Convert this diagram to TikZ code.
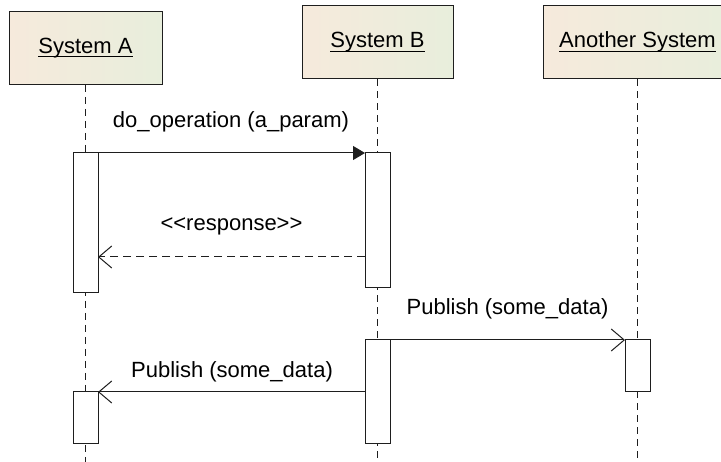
\documentclass[tikz,border=0pt]{standalone}
\usepackage{fontspec}
\setmainfont{Liberation Sans}
\usepackage{xcolor}
\definecolor{headLeft}{HTML}{F6EADC}
\definecolor{headRight}{HTML}{E8EEDC}
\definecolor{lineDark}{HTML}{1E1E1E}
\usepackage{tikz}
\usetikzlibrary{arrows.meta, positioning, calc}

% underlined participant name, rule crossing the descenders
\newcommand{\lifeName}[1]{\setbox0=\hbox{#1}\rlap{\rule[-4pt]{\wd0}{1pt}}\box0}

\begin{document}
\begin{tikzpicture}[
        x=1pt, y=-1pt,
        headNode/.style={
            draw=lineDark,
            line width=1pt,
            left color=headLeft,
            right color=headRight,
            minimum height=73pt,
            inner sep=0pt,
            text height=16pt,
            text depth=5pt,
            font=\fontsize{22}{26}\selectfont
        },
        actBar/.style={
            draw=lineDark,
            fill=white,
            line width=1pt,
            minimum width=25pt,
            inner sep=0pt,
            outer sep=0pt
        },
        lifeLine/.style={
            draw=lineDark,
            line width=1pt,
            dash pattern=on 7pt off 5pt
        },
        msgLabel/.style={
            anchor=base,
            inner sep=0pt,
            font=\fontsize{22}{26}\selectfont
        },
        callMsg/.style={
            -{Triangle[length=12pt,width=14pt]},
            draw=lineDark,
            line width=1pt
        },
        asyncMsg/.style={
            -{Straight Barb[length=13pt,width=22pt,line width=1pt]},
            draw=lineDark,
            line width=1pt
        },
        replyMsg/.style={
            asyncMsg,
            dash pattern=on 8pt off 5pt
        }
    ]
    \clip (0,0) rectangle (721,462);

    % Participants
    \node[headNode, minimum width=153pt] (sysA) at (85.5, 48) {\lifeName{System A}};
    \node[headNode, minimum width=151pt] (sysB) at (377.5, 42.5) {\lifeName{System B}};
    \node[headNode, minimum width=188pt] (sysC) at (637.5, 42.5) {\lifeName{Another System}};

    \coordinate (floor) at (0, 462);

    % Lifelines
    \draw[lifeLine] (sysA.south) -- (sysA.south |- floor);
    \draw[lifeLine] (sysB.south) -- (sysB.south |- floor);
    \draw[lifeLine] (sysC.south) -- (sysC.south |- floor);

    % Activations
    \node[actBar, minimum height=140pt] (actA1) at (85.5, 223) {};
    \node[actBar, minimum height=135pt] (actB1) at (377.5, 220.5) {};
    \node[actBar, minimum height=104pt] (actB2) at (377.5, 392) {};
    \node[actBar, minimum height=52pt] (actC1) at (637.5, 366) {};
    \node[actBar, minimum height=52pt] (actA2) at (85.5, 418) {};

    % Messages
    \node[msgLabel] (lblCall) at (231, 128) {do\_operation (a\_param)};
    \draw[callMsg] (actA1.north east) -- (actB1.north west);

    \coordinate (respRow) at (0, 257);
    \node[msgLabel] (lblResp) at (231.5, 231) {<{}<response>{}>};
    \draw[replyMsg] (actB1.west |- respRow) -- (actA1.east |- respRow);

    \node[msgLabel] (lblPubC) at (507.5, 315) {Publish (some\_data)};
    \draw[asyncMsg] (actB2.north east) -- (actC1.north west);

    \node[msgLabel] (lblPubA) at (232, 378) {Publish (some\_data)};
    \draw[asyncMsg] (actB2.west |- actA2.north) -- (actA2.north east);

    \end{tikzpicture}
\end{document}
